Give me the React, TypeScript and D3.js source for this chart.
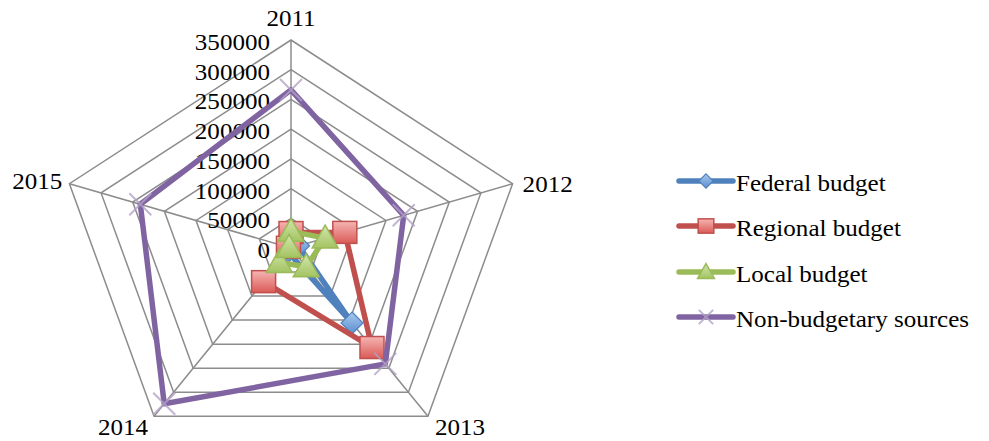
import React from "react";
import * as d3 from "d3";

const years = ["2011", "2012", "2013", "2014", "2015"];
const tickValues = [0, 50000, 100000, 150000, 200000, 250000, 300000, 350000];
const federal = [10000, 12000, 156000, 8000, 3000];
const regional = [26000, 85000, 207000, 70000, 4000];
const local = [28000, 54000, 39000, 30000, 3000];
const nonBudget = [266000, 178000, 241000, 324000, 238000];

const seriesNames = ["Federal budget", "Regional budget", "Local budget", "Non-budgetary sources"];
const seriesData = [federal, regional, local, nonBudget];
const colors = ["#4F81BD", "#C0504D", "#9BBB59", "#8064A2"];
const markers = ["diamond", "square", "triangle", "x"];

const W = 989, H = 441;
const cx = 291, cy = 248, rx = 233, ry = 208;
const SX = 1.09;
const FONT = "Liberation Serif";

const r = d3.scaleLinear().domain([0, 350000]).range([0, 1]);
const angle = d3.scaleLinear().domain([0, years.length]).range([0, 2 * Math.PI]);

function pt(i: number, v: number): [number, number] {
  const a = angle(i);
  const f = r(v);
  return [cx + rx * f * Math.sin(a), cy - ry * f * Math.cos(a)];
}

function Marker({ kind, x, y, s = 1 }: { kind: string; x: number; y: number; s?: number }) {
  if (kind === "square") {
    return <rect x={x - 12 * s} y={y - 11 * s} width={24 * s} height={22 * s} fill="url(#gRed)" stroke="#C0504D" strokeWidth={1.5} />;
  }
  if (kind === "triangle") {
    return <path d={`M${x},${y - 13 * s}L${x + 13 * s},${y + 10 * s}L${x - 13 * s},${y + 10 * s}Z`} fill="url(#gGreen)" stroke="#9BBB59" strokeWidth={1.5} />;
  }
  if (kind === "diamond") {
    return <path d={`M${x},${y - 11 * s}L${x + 11 * s},${y}L${x},${y + 11 * s}L${x - 11 * s},${y}Z`} fill="url(#gBlue)" stroke="#4F81BD" strokeWidth={1.2} />;
  }
  return (
    <g stroke="#B3A2C7" strokeWidth={2} opacity={0.8}>
      <line x1={x - 11 * s} y1={y - 11 * s} x2={x + 11 * s} y2={y + 11 * s} />
      <line x1={x - 11 * s} y1={y + 11 * s} x2={x + 11 * s} y2={y - 11 * s} />
    </g>
  );
}

export default function App() {
  const rings = tickValues.slice(1);
  const line = d3.line<[number, number]>().curve(d3.curveLinearClosed);

  const yearPos: { x: number; y: number; anchor: string }[] = years.map((_, i) => {
    const [x, y] = pt(i, 350000);
    if (i === 0) return { x, y: y - 14, anchor: "middle" };
    if (i === 1) return { x: x + 10, y: y + 8, anchor: "start" };
    if (i === 2) return { x: x + 7, y: y + 19, anchor: "start" };
    if (i === 3) return { x: x - 6, y: y + 19, anchor: "end" };
    return { x: x - 7, y: y + 5, anchor: "end" };
  });

  const legendY = [181, 226, 272, 317];
  const textStyle = { fontFamily: FONT, fontSize: 23 } as React.CSSProperties;

  return (
    <svg width={W} height={H} style={{ position: "absolute", left: 0, top: 0, background: "#fff" }}>
      <defs>
        <linearGradient id="gRed" x1="0" y1="0" x2="0" y2="1">
          <stop offset="0" stopColor="#F5B5B3" />
          <stop offset="1" stopColor="#DA5B57" />
        </linearGradient>
        <linearGradient id="gGreen" x1="0" y1="0" x2="0" y2="1">
          <stop offset="0" stopColor="#D3E6AE" />
          <stop offset="1" stopColor="#A3C462" />
        </linearGradient>
        <linearGradient id="gBlue" x1="0" y1="0" x2="0" y2="1">
          <stop offset="0" stopColor="#A9C8EE" />
          <stop offset="1" stopColor="#5A8FD0" />
        </linearGradient>
      </defs>
      <rect width={W} height={H} fill="#fff" />
      {rings.map((t) => (
        <path key={t} d={line(years.map((_, i) => pt(i, t)))!} fill="none" stroke="#8C8C8C" strokeWidth={1.5} />
      ))}
      {years.map((_, i) => {
        const [x, y] = pt(i, 350000);
        return <line key={i} x1={cx} y1={cy} x2={x} y2={y} stroke="#8C8C8C" strokeWidth={1.5} />;
      })}
      {tickValues.map((t) => {
        const y = pt(0, t)[1] + 10;
        return (
          <text key={t} transform={`translate(270,${y}) scale(${SX},1)`} textAnchor="end" style={textStyle} fill="#000">
            {t}
          </text>
        );
      })}
      {years.map((yr, i) => (
        <text key={yr} transform={`translate(${yearPos[i].x},${yearPos[i].y}) scale(${SX},1)`} textAnchor={yearPos[i].anchor} style={textStyle} fill="#000">
          {yr}
        </text>
      ))}
      {seriesData.map((vals, s) => {
        const pts = vals.map((v, i) => pt(i, v));
        return (
          <g key={s}>
            <path d={line(pts)!} fill="none" stroke={colors[s]} strokeWidth={5.5} strokeLinejoin="round" />
            {pts.map(([x, y], i) => (
              <Marker key={i} kind={markers[s]} x={x} y={y} />
            ))}
          </g>
        );
      })}
      {seriesNames.map((n, s) => (
        <g key={n}>
          <line x1={679} y1={legendY[s]} x2={733} y2={legendY[s]} stroke={colors[s]} strokeWidth={5.5} strokeLinecap="round" />
          <Marker kind={markers[s]} x={706} y={legendY[s]} s={0.65} />
          <text transform={`translate(736,${legendY[s] + 10}) scale(${SX},1)`} style={textStyle} fill="#000">
            {n}
          </text>
        </g>
      ))}
    </svg>
  );
}
